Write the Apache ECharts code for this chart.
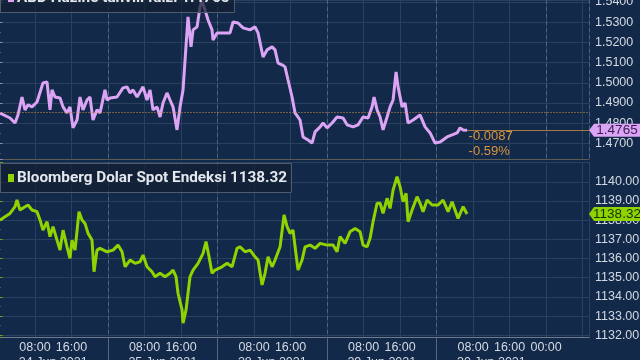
<!DOCTYPE html>
<html><head><meta charset="utf-8">
<script src="https://cdn.jsdelivr.net/npm/echarts@6/dist/echarts.min.js"></script>
<style>html,body{margin:0;padding:0;background:#13294a}#c{width:640px;height:360px}</style>
</head><body><div id="c"></div>
<script>
// Trading days (weekend removed); x values are hours counted across trading days from 24 Jun 00:00
const days = ['24 Jun 2021', '25 Jun 2021', '28 Jun 2021', '29 Jun 2021', '30 Jun 2021'];
const dayMidHours = [12, 36, 60, 84, 108];

// ABD Hazine tahvili faizi (US Treasury yield)
const tTimes = [0.33,2.52,3.62,4.27,5.15,5.81,6.47,7.34,8.44,9.75,
  10.63,11.29,11.73,12.38,13.48,14.14,15.01,15.67,16.33,17.21,
  17.86,18.52,19.40,20.05,20.71,21.59,22.25,23.34,23.78,24.44,
  25.97,27.29,28.16,28.82,29.48,30.36,31.01,31.67,32.55,33.21,
  33.86,34.74,35.40,36.05,36.93,37.59,38.25,39.12,39.78,40.44,
  40.88,41.53,42.19,42.63,43.51,44.16,44.60,45.26,45.92,46.79,
  47.01,47.89,49.21,50.74,51.40,52.49,53.59,55.12,56.22,56.88,
  57.97,58.85,59.95,60.60,61.26,62.14,62.79,63.45,64.33,64.99,
  66.08,66.74,67.84,68.71,69.37,70.47,71.12,72.00,73.10,74.19,
  75.51,76.38,77.70,78.79,79.89,80.99,81.86,82.30,82.96,83.62,
  84.27,85.15,85.81,86.47,87.12,87.56,88.44,89.10,89.75,90.85,
  92.38,93.48,94.58,95.67,96.77,98.30,99.40,100.49,101.15,101.81,
  102.68];
const tVals = [1.4850,1.4826,1.4801,1.4841,1.4930,1.4866,1.4891,1.4881,1.4905,1.4999,
  1.5004,1.4866,1.4965,1.4930,1.4925,1.4881,1.4851,1.4881,1.4777,1.4816,
  1.4930,1.4866,1.4915,1.4930,1.4816,1.4866,1.4851,1.4965,1.4915,1.4925,
  1.4930,1.4975,1.4980,1.4950,1.4965,1.4930,1.4955,1.4980,1.4915,1.4965,
  1.4866,1.4881,1.4831,1.4900,1.4950,1.4915,1.4881,1.4767,1.4881,1.4965,
  1.5113,1.5326,1.5178,1.5262,1.5277,1.5376,1.5405,1.5361,1.5311,1.5262,
  1.5212,1.5247,1.5247,1.5247,1.5301,1.5296,1.5272,1.5262,1.5277,1.5247,
  1.5128,1.5163,1.5178,1.5163,1.5098,1.5089,1.5079,1.5014,1.4930,1.4851,
  1.4816,1.4732,1.4717,1.4702,1.4757,1.4782,1.4801,1.4777,1.4801,1.4831,
  1.4826,1.4792,1.4782,1.4792,1.4831,1.4826,1.4881,1.4930,1.4866,1.4831,
  1.4767,1.4831,1.4881,1.4915,1.5054,1.4980,1.4881,1.4900,1.4801,1.4816,
  1.4841,1.4782,1.4752,1.4702,1.4707,1.4732,1.4742,1.4752,1.4777,1.4767,
  1.4765];
const tPrevClose = 1.4852;

// Bloomberg Dolar Spot Endeksi
const dTimes = [0.33,1.42,2.52,3.62,4.05,4.71,5.81,6.47,7.34,8.44,
  9.10,9.75,10.63,11.29,11.95,12.82,13.48,14.14,15.01,15.67,
  16.11,16.77,17.64,18.30,18.96,19.62,20.49,20.93,21.59,22.25,
  23.78,25.10,26.19,27.07,27.73,28.82,29.92,31.01,31.67,32.55,
  33.64,34.30,35.40,36.49,37.59,38.25,38.90,39.34,40.22,40.44,
  41.10,41.53,41.97,42.63,43.73,44.82,45.48,46.14,46.79,47.45,
  48.99,50.08,51.18,52.27,52.93,54.03,55.12,56.22,56.88,57.75,
  58.41,59.07,59.95,60.60,61.70,62.58,63.24,63.89,64.55,64.99,
  65.64,66.52,67.18,68.27,69.37,70.47,72.00,73.32,74.19,74.85,
  75.95,77.04,78.14,79.23,79.89,80.77,81.42,82.08,82.96,83.62,
  84.27,85.15,85.81,86.47,87.34,88.00,88.66,89.32,89.75,90.63,
  91.73,92.38,93.04,93.92,95.01,96.33,97.42,98.52,99.40,100.05,
  100.71,101.81,102.68];
const dVals = [1138.01,1138.18,1138.35,1138.70,1139.05,1138.53,1138.70,1138.79,1138.53,1138.44,
  1138.01,1137.48,1137.92,1137.14,1137.66,1136.96,1136.44,1137.48,1136.61,1136.01,
  1136.96,1136.44,1138.44,1138.01,1137.83,1137.31,1136.96,1135.31,1136.44,1136.53,
  1136.35,1136.44,1136.70,1136.35,1135.57,1135.92,1135.75,1135.83,1136.18,1135.57,
  1135.31,1135.05,1135.23,1135.05,1135.23,1135.40,1135.05,1134.19,1133.32,1132.63,
  1133.32,1134.19,1135.05,1135.40,1135.75,1136.27,1136.88,1136.09,1135.23,1135.40,
  1135.57,1135.75,1135.57,1136.53,1136.61,1136.35,1136.44,1136.09,1135.92,1134.62,
  1135.23,1136.09,1135.57,1135.92,1136.61,1138.27,1137.66,1137.31,1137.48,1136.61,
  1135.40,1135.92,1136.61,1136.70,1136.53,1136.79,1136.70,1136.70,1136.35,1137.14,
  1136.79,1137.40,1137.57,1137.40,1136.70,1136.61,1137.05,1137.92,1138.88,1138.88,
  1138.35,1139.14,1138.61,1139.57,1140.26,1139.74,1138.96,1139.40,1137.92,1138.53,
  1139.22,1138.88,1138.44,1139.05,1138.79,1138.79,1139.05,1138.44,1138.96,1138.53,
  1138.09,1138.70,1138.32];

const X_MAX = 129.4;
const BG = '#13294a';
const GRID = '#29405f';
const DASH = '#4d6484';
const LBL = '#d3d9e1';
const AXF = '"Liberation Sans", Arial, sans-serif';
const AXS = 12.5;
const PURPLE = '#dca4f4';
const GREEN = '#8fd400';
const ORANGE = '#d8953c';

const tLast = tVals[tVals.length - 1];
const tLastT = tTimes[tTimes.length - 1];
const dLast = dVals[dVals.length - 1];
const tChg = tLast - tPrevClose;
const tPct = tChg / tPrevClose * 100;

const tData = tTimes.map((t, i) => [t, tVals[i]]);
const dData = dTimes.map((t, i) => [t, dVals[i]]);

function hourLabel(v) {
  const h = Math.round(v);
  if (Math.abs(v - h) > 1e-6 || h > 120) return '';
  const m = h % 24;
  if (m === 8) return '08:00';
  if (m === 16) return '16:00';
  if (h === 120) return '00:00';
  return '';
}
function dayLabel(v) {
  const i = dayMidHours.findIndex(h => Math.abs(h - v) < 1e-6);
  return i >= 0 ? days[i] : '';
}
function isMult(v, step) {
  const q = v / step;
  return Math.abs(q - Math.round(q)) < 1e-6;
}

const chart = echarts.init(document.getElementById('c'), null, {renderer: 'canvas'});
chart.setOption({
  backgroundColor: BG,
  animation: false,
  textStyle: {fontFamily: AXF},
  title: [
    {
      left: 0, top: -17, padding: [6, 5, 6, 8],
      backgroundColor: 'rgba(18,30,48,0.72)', borderColor: '#4f5b6e', borderWidth: 1,
      text: '{sq| }{t|ABD Hazine tahvili faizi ' + tLast.toFixed(4) + '}',
      textStyle: {rich: {
        sq: {width: 6, height: 8, backgroundColor: PURPLE},
        t: {color: '#e4e8ee', fontSize: 15.3, fontFamily: 'Roboto', padding: [0, 0, 0, 3], lineHeight: 18}
      }}
    },
    {
      left: 0, top: 163, padding: [6, 5, 6, 8],
      backgroundColor: 'rgba(18,30,48,0.72)', borderColor: '#4f5b6e', borderWidth: 1,
      text: '{sq| }{t|Bloomberg Dolar Spot Endeksi ' + dLast.toFixed(2) + '}',
      textStyle: {rich: {
        sq: {width: 6, height: 8, backgroundColor: GREEN},
        t: {color: '#e4e8ee', fontSize: 15.3, fontFamily: 'Roboto', padding: [0, 0, 0, 3], lineHeight: 18}
      }}
    }
  ],
  grid: [
    {left: -1.5, right: 51, top: 0, height: 159, outerBoundsMode: 'none', containLabel: false},
    {left: -1.5, right: 51, top: 162, bottom: 23, outerBoundsMode: 'none', containLabel: false}
  ],
  xAxis: [
    {gridIndex: 0, type: 'value', position: 'bottom', min: 0, max: X_MAX, interval: 8,
      axisLine: {show: true, lineStyle: {color: '#5f5a52'}}, axisTick: {show: false}, axisLabel: {show: false},
      splitLine: {show: true, lineStyle: {color: GRID, width: 1}}},
    {gridIndex: 0, type: 'value', position: 'bottom', min: 0, max: X_MAX, interval: 24,
      axisLine: {show: false}, axisTick: {show: false}, axisLabel: {show: false},
      splitLine: {show: true, lineStyle: {color: DASH, type: [4, 3], width: 1}}},
    {gridIndex: 1, type: 'value', position: 'bottom', min: 0, max: X_MAX, interval: 8,
      axisLine: {show: true, lineStyle: {color: '#6f7b8c'}}, axisTick: {show: false},
      axisLabel: {show: true, formatter: hourLabel, color: LBL, fontSize: AXS, fontFamily: AXF, margin: 4, showMinLabel: false, showMaxLabel: false},
      splitLine: {show: true, lineStyle: {color: GRID, width: 1}}},
    {gridIndex: 1, type: 'value', position: 'bottom', min: 0, max: X_MAX, interval: 24,
      axisLine: {show: false},
      axisTick: {show: true, inside: false, length: 24, customValues: [24, 48, 72, 96], lineStyle: {color: '#56667c'}},
      axisLabel: {show: false},
      splitLine: {show: true, lineStyle: {color: DASH, type: [4, 3], width: 1}}},
    {gridIndex: 1, type: 'value', position: 'bottom', min: 0, max: X_MAX,
      axisLine: {show: false}, axisTick: {show: false}, splitLine: {show: false},
      axisLabel: {show: true, customValues: dayMidHours, formatter: dayLabel, color: LBL, fontSize: AXS, fontFamily: AXF, margin: 19}}
  ],
  yAxis: [
    {gridIndex: 0, type: 'value', position: 'right', min: 1.4623, max: 1.541, splitNumber: 8,
      axisLine: {show: true, lineStyle: {color: '#9a88c2'}},
      axisTick: {show: true, inside: false, length: 4, lineStyle: {color: '#9a88c2'}},
      minorTick: {show: true, splitNumber: 2, length: 2, lineStyle: {color: '#9a88c2'}},
      axisLabel: {color: LBL, fontSize: AXS, fontFamily: AXF, margin: 6,
        formatter: v => isMult(v, 0.01) ? v.toFixed(4) : ''},
      splitLine: {show: true, lineStyle: {color: GRID}}},
    {gridIndex: 1, type: 'value', position: 'right', min: 1131.91, max: 1141.03, splitNumber: 9,
      axisLine: {show: true, lineStyle: {color: '#79a51c'}},
      axisTick: {show: true, inside: false, length: 4, lineStyle: {color: '#79a51c'}},
      minorTick: {show: true, splitNumber: 2, length: 2, lineStyle: {color: '#79a51c'}},
      axisLabel: {color: LBL, fontSize: AXS, fontFamily: AXF, margin: 6,
        formatter: v => (isMult(v, 1) && v < 1140.5) ? v.toFixed(2) : ''},
      splitLine: {show: true, lineStyle: {color: GRID}}}
  ],
  series: [
    {
      type: 'line', xAxisIndex: 0, yAxisIndex: 0, data: tData, showSymbol: false, silent: true,
      lineStyle: {color: PURPLE, width: 3}, itemStyle: {color: PURPLE},
      markLine: {
        silent: true, animation: false, symbol: ['none', 'none'], label: {show: false},
        data: [
          [{coord: [0, tPrevClose], lineStyle: {type: [1, 2], color: ORANGE, width: 1}},
           {coord: [X_MAX, tPrevClose], lineStyle: {type: [1, 2], color: ORANGE, width: 1}}],
          [{coord: [tLastT, tLast], lineStyle: {type: 'solid', color: '#a57a42', width: 1}},
           {coord: [X_MAX, tLast], lineStyle: {type: 'solid', color: '#a57a42', width: 1}}]
        ]
      },
      markPoint: {
        silent: true, animation: false,
        data: [
          {coord: [X_MAX, tLast], symbol: 'path://M0,6 L5,0 L52,0 L52,12 L5,12 Z',
            symbolSize: [52, 13], symbolOffset: [26, 0], symbolKeepAspect: false,
            itemStyle: {color: PURPLE},
            label: {show: true, position: 'inside', formatter: tLast.toFixed(4), color: '#3a1c50',
              fontSize: 13.5, fontFamily: AXF, offset: [2, 0]}},
          {coord: [tLastT, tLast], symbol: 'circle', symbolSize: 1, itemStyle: {color: 'rgba(0,0,0,0)'},
            label: {show: true, position: 'right', distance: 1, offset: [0, 14], align: 'left',
              formatter: (tChg >= 0 ? '+' : '') + tChg.toFixed(4) + '\n' + tPct.toFixed(2) + '%',
              color: ORANGE, fontSize: 13, lineHeight: 15, fontFamily: AXF}}
        ]
      }
    },
    {
      type: 'line', xAxisIndex: 2, yAxisIndex: 1, data: dData, showSymbol: false, silent: true,
      lineStyle: {color: GREEN, width: 3}, itemStyle: {color: GREEN},
      markPoint: {
        silent: true, animation: false,
        data: [
          {coord: [X_MAX, dLast], symbol: 'path://M0,6.5 L5,0 L52,0 L52,13 L5,13 Z',
            symbolSize: [52, 14], symbolOffset: [26, 0], symbolKeepAspect: false,
            itemStyle: {color: GREEN},
            label: {show: true, position: 'inside', formatter: dLast.toFixed(2), color: '#15300a',
              fontSize: 13.5, fontFamily: AXF, offset: [2, 0]}}
        ]
      }
    }
  ]
});
</script></body></html>
